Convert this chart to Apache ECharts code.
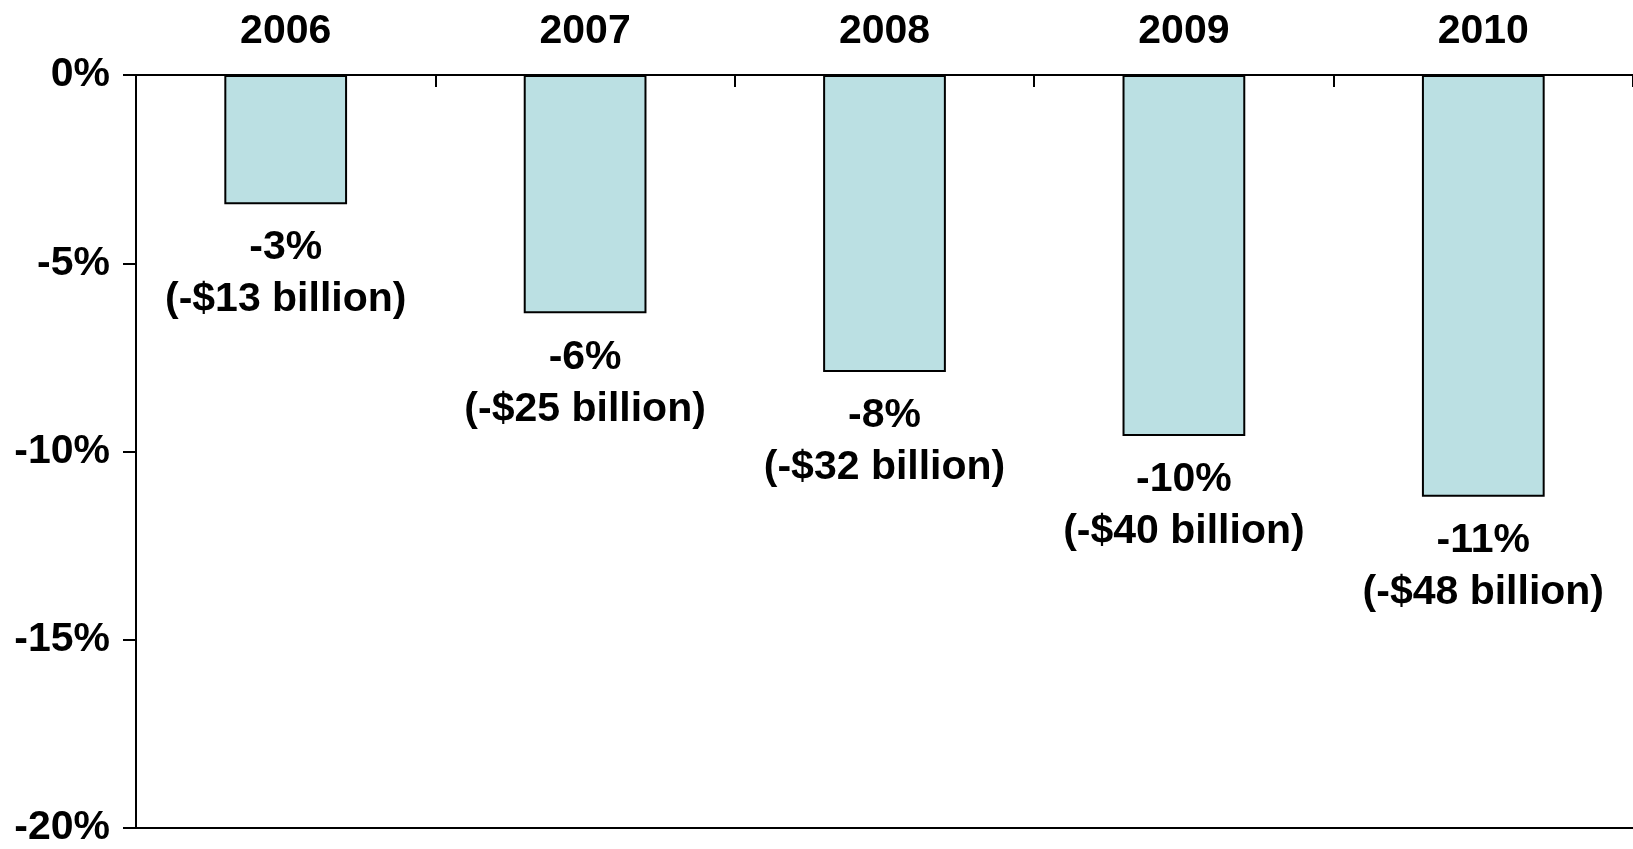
<!DOCTYPE html>
<html>
<head>
<meta charset="utf-8">
<script src="https://cdn.jsdelivr.net/npm/echarts@6/dist/echarts.min.js"></script>
<style>
html,body{margin:0;padding:0;background:#fff;}
#chart{width:1633px;height:849px;}
</style>
</head>
<body>
<div id="chart"></div>
<script>
const years = ['2006', '2007', '2008', '2009', '2010'];
const changePct = [-3.43, -6.33, -7.89, -9.59, -11.20];
const pctLabels = ['-3%', '-6%', '-8%', '-10%', '-11%'];
const billionLabels = ['(-$13 billion)', '(-$25 billion)', '(-$32 billion)', '(-$40 billion)', '(-$48 billion)'];
const yTickValues = [0, -5, -10, -15, -20];

const FONT = '"Liberation Sans", Arial, Helvetica, sans-serif';
const chart = echarts.init(document.getElementById('chart'), null, {renderer: 'canvas'});
chart.setOption({
  animation: false,
  backgroundColor: '#ffffff',
  grid: {left: 136, top: 75, right: 0, bottom: 21, containLabel: false},
  xAxis: [
    {
      type: 'category',
      position: 'top',
      data: years,
      boundaryGap: true,
      axisLine: {show: true, onZero: false, lineStyle: {color: '#000', width: 2}},
      axisTick: {show: true, inside: true, length: 12, lineStyle: {color: '#000', width: 2}},
      axisLabel: {color: '#000', fontFamily: FONT, fontWeight: 'bold', fontSize: 41, margin: 23}
    },
    {
      type: 'category',
      position: 'bottom',
      data: years,
      axisLine: {show: true, onZero: false, lineStyle: {color: '#000', width: 2}},
      axisTick: {show: false},
      axisLabel: {show: false}
    }
  ],
  yAxis: {
    type: 'value',
    min: -20,
    max: 0,
    interval: 5,
    axisLine: {show: true, lineStyle: {color: '#000', width: 2}},
    axisTick: {show: true, length: 13, lineStyle: {color: '#000', width: 2}},
    splitLine: {show: false},
    axisLabel: {
      color: '#000', fontFamily: FONT, fontWeight: 'bold', fontSize: 41, margin: 26,
      formatter: function (v) { return yTickValues.indexOf(v) >= 0 ? v + '%' : ''; }
    }
  },
  series: [{
    type: 'bar',
    xAxisIndex: 0,
    data: changePct,
    barWidth: '41%',
    itemStyle: {color: '#BBE0E3', borderColor: '#000', borderWidth: 2},
    label: {
      show: true,
      position: 'bottom',
      distance: 18,
      color: '#000',
      fontFamily: FONT,
      fontWeight: 'bold',
      fontSize: 41,
      lineHeight: 52,
      align: 'center',
      formatter: function (p) { return pctLabels[p.dataIndex] + '\n' + billionLabels[p.dataIndex]; }
    }
  }]
});
</script>
</body>
</html>
